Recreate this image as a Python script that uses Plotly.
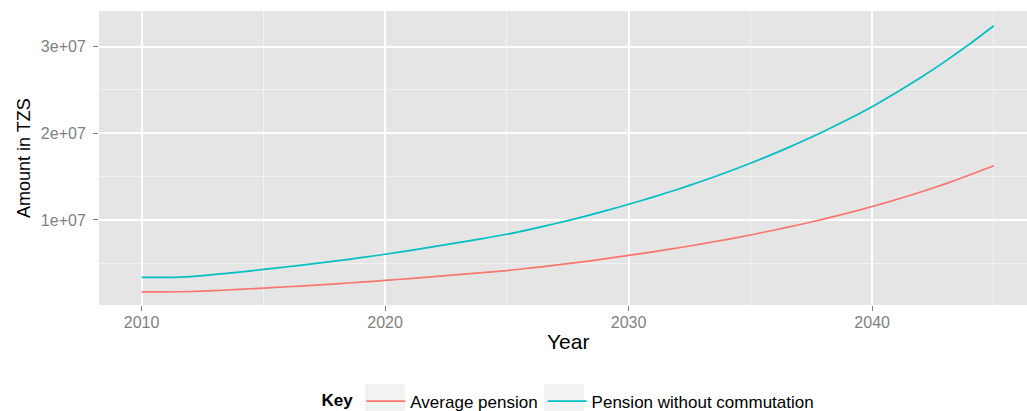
import plotly.graph_objects as go

years = list(range(2010, 2046))
average_pension = [1.72e6, 1.71e6, 1.75e6, 1.86e6, 1.99e6, 2.15e6, 2.30e6, 2.46e6, 2.64e6, 2.83e6,
                   3.03e6, 3.24e6, 3.46e6, 3.69e6, 3.93e6, 4.17e6, 4.47e6, 4.79e6, 5.14e6, 5.51e6,
                   5.92e6, 6.33e6, 6.77e6, 7.24e6, 7.74e6, 8.27e6, 8.84e6, 9.45e6, 10.10e6, 10.80e6,
                   11.55e6, 12.36e6, 13.23e6, 14.16e6, 15.18e6, 16.25e6]
pension_without_commutation = [3.39e6, 3.38e6, 3.47e6, 3.72e6, 3.98e6, 4.30e6, 4.61e6, 4.93e6, 5.28e6, 5.65e6,
                               6.05e6, 6.47e6, 6.92e6, 7.39e6, 7.86e6, 8.35e6, 8.95e6, 9.59e6, 10.28e6, 11.02e6,
                               11.81e6, 12.64e6, 13.52e6, 14.46e6, 15.47e6, 16.54e6, 17.68e6, 18.90e6, 20.20e6, 21.59e6,
                               23.07e6, 24.69e6, 26.43e6, 28.29e6, 30.28e6, 32.40e6]
series_names = ["Average pension", "Pension without commutation"]
series_colors = ["#F8766D", "#00BFC4"]

x_tickvals = [2010, 2020, 2030, 2040]
x_ticktext = ["2010", "2020", "2030", "2040"]
y_tickvals = [1e7, 2e7, 3e7]
y_ticktext = ["1e+07", "2e+07", "3e+07"]

FONT = "Liberation Sans, Arial, sans-serif"

L, T, PW, PH = 99, 11, 928, 294


def px_x(p):
    return (p - L) / PW


def px_y(p):
    return (T + PH - p) / PH


fig = go.Figure()
for name, vals, col in zip(series_names, [average_pension, pension_without_commutation], series_colors):
    fig.add_trace(go.Scatter(x=years, y=vals, mode="lines", name=name,
                             line=dict(color=col, width=1.7, shape="spline", smoothing=0.5)))

key_boxes = [(365, 405), (544, 584)]
shapes = [dict(type="rect", xref="paper", yref="paper",
               x0=px_x(a), x1=px_x(b), y0=px_y(420), y1=px_y(384),
               fillcolor="#F2F2F2", line=dict(width=0), layer="below")
          for a, b in key_boxes]

fig.update_layout(
    width=1027, height=411,
    margin=dict(l=L, r=0, t=T, b=106, autoexpand=False),
    paper_bgcolor="white",
    plot_bgcolor="#E5E5E5",
    font=dict(family=FONT, color="black"),
    showlegend=True,
    legend=dict(
        orientation="h",
        x=0.5071, xanchor="center",
        y=px_y(401.5), yanchor="middle",
        title=dict(text="<b>Key</b>", side="left", font=dict(size=17, color="black")),
        font=dict(size=17, color="black"),
        bgcolor="rgba(0,0,0,0)",
        itemwidth=39,
    ),
    xaxis=dict(
        range=[2008.25, 2046.36],
        tickvals=x_tickvals, ticktext=x_ticktext,
        showgrid=True, gridcolor="white", gridwidth=1.6,
        zeroline=False, showline=False,
        ticks="outside", ticklen=5, tickwidth=1, tickcolor="#7F7F7F",
        tickfont=dict(size=16, color="#7F7F7F", family=FONT),
        ticklabelstandoff=-2,
        minor=dict(tickvals=[2015, 2025, 2035, 2045], showgrid=True,
                   gridcolor="#F2F2F2", gridwidth=0.8, ticks=""),
    ),
    yaxis=dict(
        range=[1.96e5, 3.41e7],
        tickvals=y_tickvals, ticktext=y_ticktext,
        showgrid=True, gridcolor="white", gridwidth=1.6,
        zeroline=False, showline=False,
        ticks="outside", ticklen=5, tickwidth=1, tickcolor="#7F7F7F",
        tickfont=dict(size=16, color="#7F7F7F", family=FONT),
        ticklabelstandoff=4,
        minor=dict(tickvals=[5e6, 1.5e7, 2.5e7], showgrid=True,
                   gridcolor="#F2F2F2", gridwidth=0.8, ticks=""),
    ),
    shapes=shapes,
    annotations=[
        dict(text="Year", xref="paper", yref="paper", x=0.5, y=0,
             xanchor="center", yanchor="middle", xshift=5, yshift=-36,
             showarrow=False, font=dict(size=21, color="black", family=FONT)),
        dict(text="Amount in TZS", xref="paper", yref="paper", x=0, y=0.5,
             xanchor="center", yanchor="middle", xshift=-75, textangle=-90,
             showarrow=False, font=dict(size=18, color="black", family=FONT)),
    ],
)

fig.write_html("out.html", config={"displayModeBar": False},
               post_script="document.body.style.margin='0';document.body.style.overflow='hidden';")
